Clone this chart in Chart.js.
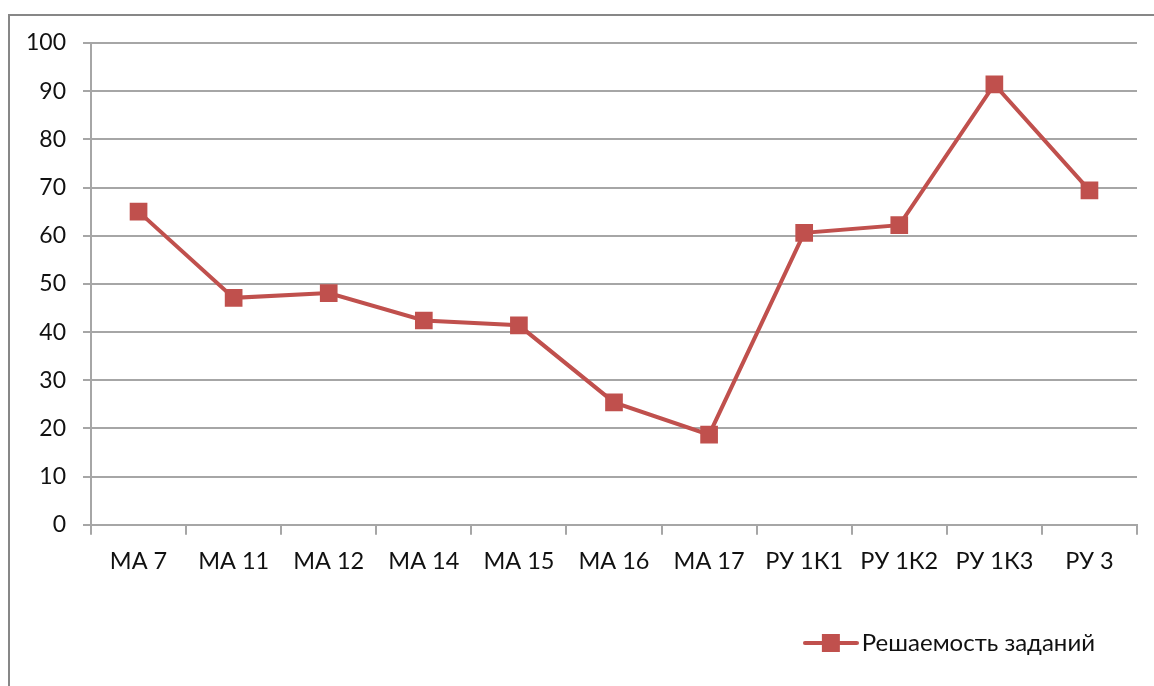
<!DOCTYPE html>
<html>
<head>
<meta charset="utf-8">
<script src="https://cdn.jsdelivr.net/npm/chart.js@4"></script>
<style>
  html, body { margin: 0; padding: 0; background: #fff; }
  #frame {
    position: absolute; left: 8px; top: 14px; width: 1200px; height: 720px;
    border-left: 2px solid #878787; border-top: 2px solid #878787;
  }
  #wrap { position: absolute; left: 0; top: 0; width: 1154px; height: 686px; }
</style>
</head>
<body>
<div id="frame"></div>
<div id="wrap"><canvas id="lineChart"></canvas></div>
<script>
const categories = ["MA 7", "MA 11", "MA 12", "MA 14", "MA 15", "MA 16", "MA 17", "РУ 1К1", "РУ 1К2", "РУ 1К3", "РУ 3"];
const solved = [65, 47.1, 48.1, 42.4, 41.4, 25.4, 18.7, 60.6, 62.2, 91.4, 69.4];
const seriesName = "Решаемость заданий";
const yTicks = [0, 10, 20, 30, 40, 50, 60, 70, 80, 90, 100];

const red = "#C0504D";
const fontFamily = "Lato, 'Liberation Sans', sans-serif";

// legend symbol: line with square in the middle
function legendSymbol() {
  const c = document.createElement("canvas");
  c.width = 56;
  c.height = 20;
  const ctx = c.getContext("2d");
  ctx.strokeStyle = red;
  ctx.lineWidth = 4;
  ctx.lineCap = "round";
  ctx.beginPath();
  ctx.moveTo(2, 10);
  ctx.lineTo(54, 10);
  ctx.stroke();
  ctx.fillStyle = red;
  ctx.fillRect(19, 1, 18, 18);
  return c;
}

function createChart() {
  const ctx = document.getElementById("lineChart").getContext("2d");

  new Chart(ctx, {
    type: "line",
    data: {
      labels: categories,
      datasets: [
        {
          label: seriesName,
          data: solved,
          fill: false,
          borderColor: red,
          backgroundColor: red,
          borderWidth: 4,
          pointStyle: "rect",
          pointRadius: 12.5,
          pointBorderWidth: 0,
          pointBackgroundColor: red,
          tension: 0,
        },
      ],
    },
    options: {
      responsive: true,
      maintainAspectRatio: false,
      animation: false,
      layout: {
        padding: { left: 0, right: 17, top: 43, bottom: 21 },
      },
      plugins: {
        tooltip: { enabled: false },
        legend: {
          display: true,
          position: "bottom",
          align: "end",
          labels: {
            usePointStyle: true,
            pointStyle: legendSymbol(),
            pointStyleWidth: 38,
            boxHeight: 20,
            padding: 42,
            color: "#111",
            font: { family: fontFamily, size: 24 },
          },
        },
      },
      scales: {
        x: {
          offset: true,
          grid: {
            offset: true,
            drawOnChartArea: false,
            drawTicks: true,
            tickLength: 10,
            color: "#a6a6a6",
            lineWidth: 2,
          },
          border: { display: true, color: "#a6a6a6", width: 2 },
          ticks: {
            color: "#111",
            padding: 13,
            maxRotation: 0,
            autoSkip: false,
            font: { family: fontFamily, size: 23.5 },
          },
        },
        y: {
          min: 0,
          max: 100,
          afterFit: (scale) => {
            scale.width = 91;
          },
          afterBuildTicks: (scale) => {
            scale.ticks = yTicks.map((v) => ({ value: v }));
          },
          grid: {
            color: "#a6a6a6",
            lineWidth: 2,
            tickLength: 8,
          },
          border: { display: true, color: "#a6a6a6", width: 2 },
          ticks: {
            color: "#111",
            padding: 17,
            font: { family: fontFamily, size: 23 },
          },
        },
      },
    },
  });
}

createChart();
</script>
</body>
</html>
